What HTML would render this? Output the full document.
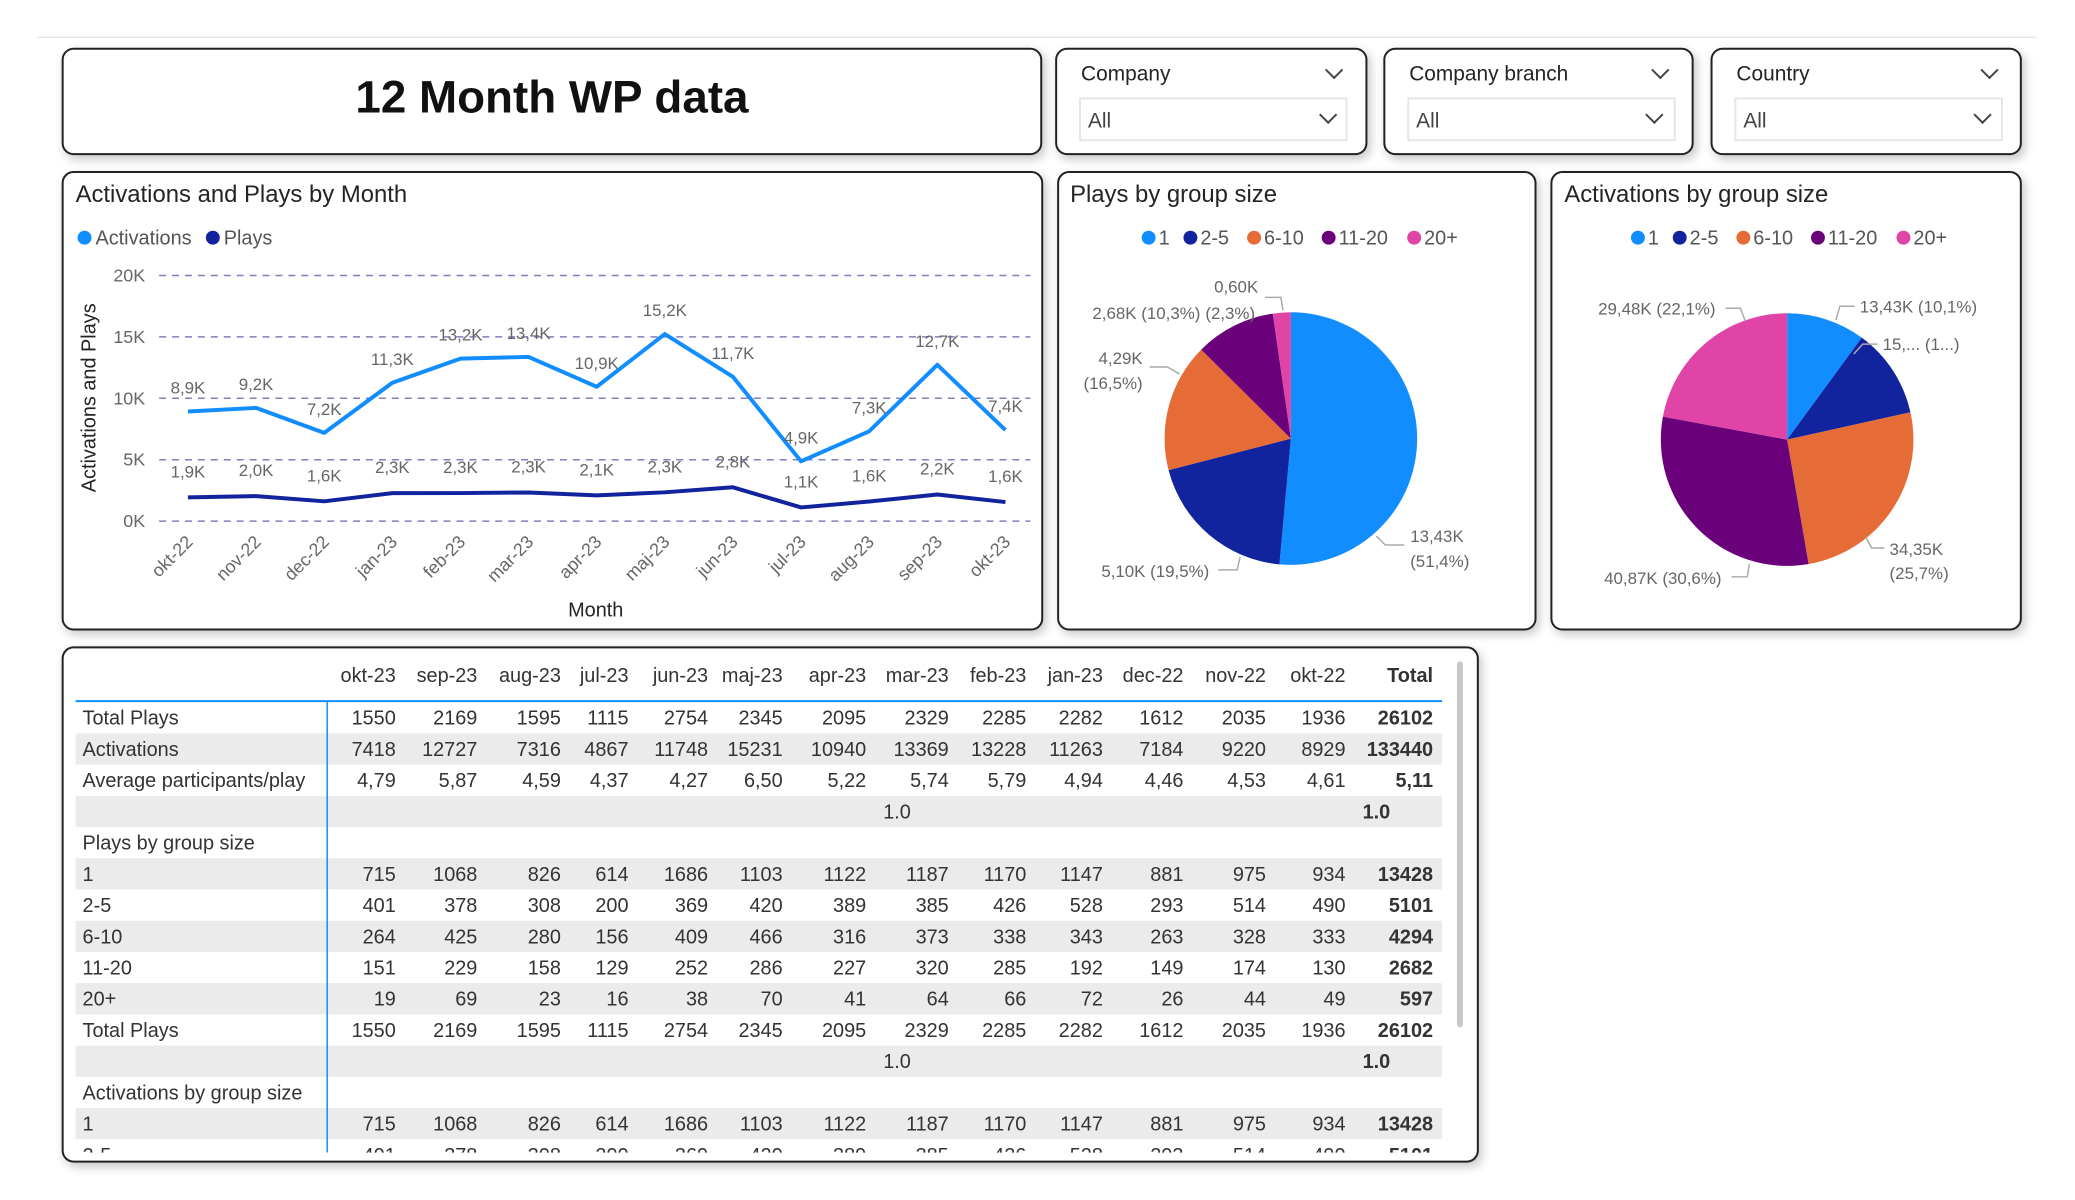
<!DOCTYPE html>
<html><head><meta charset="utf-8">
<style>
html,body{margin:0;padding:0;background:#fff;}
body{width:2075px;height:1200px;position:relative;overflow:hidden;font-family:"Liberation Sans",sans-serif;color:#252423;}
#root{position:absolute;left:0;top:0;width:2075px;height:1200px;transform:scale(0.9945);transform-origin:0 0;}
.box{position:absolute;border:2px solid #222;border-radius:12px;background:#fff;box-shadow:3px 4px 10px rgba(0,0,0,0.22);box-sizing:border-box;}
.lbl{position:absolute;font-size:21px;color:#252423;}
.dd{position:absolute;border:2px solid #e6e6e6;box-sizing:border-box;}
.chev{position:absolute;width:11px;height:11px;border-right:2px solid #444;border-bottom:2px solid #444;transform:rotate(45deg);}
svg text{font-family:"Liberation Sans",sans-serif;}
</style></head>
<body>
<div id="root">
<div style="position:absolute;left:37px;top:37px;width:2011px;height:1px;background:#ddd;"></div>

<div class="box" style="left:62px;top:48px;width:986px;height:108px;">
  <div style="position:absolute;left:0;right:0;top:20px;text-align:center;font-size:46px;font-weight:bold;color:#111;">12 Month WP data</div>
</div>

<div class="box" style="left:1061px;top:48px;width:314px;height:108px;">
  <div class="lbl" style="left:24px;top:13px;">Company</div>
  <div class="chev" style="left:272px;top:14px;"></div>
  <div class="dd" style="left:22px;top:48px;width:270px;height:44px;">
    <div class="lbl" style="left:7px;top:10px;color:#444;">All</div>
    <div class="chev" style="left:242px;top:9px;"></div>
  </div>
</div>
<div class="box" style="left:1391px;top:48px;width:312px;height:108px;">
  <div class="lbl" style="left:24px;top:13px;">Company branch</div>
  <div class="chev" style="left:270px;top:14px;"></div>
  <div class="dd" style="left:22px;top:48px;width:270px;height:44px;">
    <div class="lbl" style="left:7px;top:10px;color:#444;">All</div>
    <div class="chev" style="left:240px;top:9px;"></div>
  </div>
</div>
<div class="box" style="left:1720px;top:48px;width:313px;height:108px;">
  <div class="lbl" style="left:24px;top:13px;">Country</div>
  <div class="chev" style="left:272px;top:14px;"></div>
  <div class="dd" style="left:22px;top:48px;width:270px;height:44px;">
    <div class="lbl" style="left:7px;top:10px;color:#444;">All</div>
    <div class="chev" style="left:241px;top:9px;"></div>
  </div>
</div>

<div class="box" style="left:62px;top:172px;width:987px;height:462px;"></div>
<div class="box" style="left:1063px;top:172px;width:482px;height:462px;"></div>
<div class="box" style="left:1559px;top:172px;width:474px;height:462px;"></div>
<div class="box" style="left:62px;top:650px;width:1425px;height:519px;overflow:hidden;"></div>

<svg id="charts" width="2075" height="1200" style="position:absolute;left:0;top:0;" xmlns="http://www.w3.org/2000/svg"></svg>
</div>

<script>
// ---- Line chart data ----
const months = ["okt-22","nov-22","dec-22","jan-23","feb-23","mar-23","apr-23","maj-23","jun-23","jul-23","aug-23","sep-23","okt-23"];
const activations = [8929,9220,7184,11263,13228,13369,10940,15231,11748,4867,7316,12727,7418];
const plays = [1936,2035,1612,2282,2285,2329,2095,2345,2754,1115,1595,2169,1550];
const yTicks = [0,5000,10000,15000,20000];
const yTickLabels = ["0K","5K","10K","15K","20K"];
// ---- Pie data ----
const groupLabels = ["1","2-5","6-10","11-20","20+"];
const playsByGroup = [13428,5101,4294,2682,597];
const activationsByGroup = [13428,15312,34350,40870,29480];
// ---- Table data ----
const tableCols = ["okt-23","sep-23","aug-23","jul-23","jun-23","maj-23","apr-23","mar-23","feb-23","jan-23","dec-22","nov-22","okt-22","Total"];
const rowTotalPlays = ["1550","2169","1595","1115","2754","2345","2095","2329","2285","2282","1612","2035","1936","26102"];
const rowActivations = ["7418","12727","7316","4867","11748","15231","10940","13369","13228","11263","7184","9220","8929","133440"];
const rowAvg = ["4,79","5,87","4,59","4,37","4,27","6,50","5,22","5,74","5,79","4,94","4,46","4,53","4,61","5,11"];
const rowG1 = ["715","1068","826","614","1686","1103","1122","1187","1170","1147","881","975","934","13428"];
const rowG25 = ["401","378","308","200","369","420","389","385","426","528","293","514","490","5101"];
const rowG610 = ["264","425","280","156","409","466","316","373","338","343","263","328","333","4294"];
const rowG1120 = ["151","229","158","129","252","286","227","320","285","192","149","174","130","2682"];
const rowG20 = ["19","69","23","16","38","70","41","64","66","72","26","44","49","597"];

const NS="http://www.w3.org/2000/svg";
const svg=document.getElementById('charts');
const colors=["#118DFF","#12239E","#E66C37","#6B007B","#E044A7"];
function mk(tag,attrs,parent){const e=document.createElementNS(NS,tag);for(const k in attrs)e.setAttribute(k,attrs[k]);(parent||svg).appendChild(e);return e;}
function txt(s,attrs,parent){const e=mk('text',attrs,parent);e.textContent=s;return e;}

// ---------- Line chart ----------
const X0=189,X1=1011,Y0=524,Y1=277;
const xs=i=>X0+(X1-X0)*i/(months.length-1);
const ys=v=>Y0-(Y0-Y1)*v/20000;
let t;
t=txt("Activations and Plays by Month",{x:76,y:203,'font-size':24,fill:'#252423'});


let c=mk('circle',{cx:85,cy:239,r:7,fill:colors[0]});


t=txt("Activations",{x:96,y:246,'font-size':20,fill:'#555'});


c=mk('circle',{cx:214,cy:239,r:7,fill:colors[1]});


t=txt("Plays",{x:225,y:246,'font-size':20,fill:'#555'});


yTicks.forEach((v,i)=>{
  const l=mk('line',{x1:160,x2:1036,y1:ys(v),y2:ys(v),stroke:'#7F7FBF','stroke-width':1.5,'stroke-dasharray':'7,6'});
  
  
  const tt=txt(yTickLabels[i],{x:146,y:ys(v)+6,'font-size':18,fill:'#666','text-anchor':'end'});
  
  
});
months.forEach((m,i)=>{
  const tt=txt(m,{x:0,y:0,'font-size':18,fill:'#666','text-anchor':'end',transform:`translate(${xs(i)+6},${546}) rotate(-45)`});
  
  
});
t=txt("Month",{x:599,y:620,'font-size':20,fill:'#252423','text-anchor':'middle'});


t=txt("Activations and Plays",{x:0,y:0,'font-size':20,fill:'#252423','text-anchor':'middle',transform:'translate(96,400) rotate(-90)'});


function fmtK(v){return (v/1000).toFixed(1).replace('.',',')+'K';}
let p=mk('polyline',{points:activations.map((v,i)=>xs(i)+','+ys(v)).join(' '),fill:'none',stroke:colors[0],'stroke-width':4,'stroke-linejoin':'round'});


p=mk('polyline',{points:plays.map((v,i)=>xs(i)+','+ys(v)).join(' '),fill:'none',stroke:colors[1],'stroke-width':4,'stroke-linejoin':'round'});


activations.forEach((v,i)=>{
  const tt=txt(fmtK(v),{x:xs(i),y:ys(v)-18,'font-size':17,fill:'#666','text-anchor':'middle'});
  
  
});
plays.forEach((v,i)=>{
  const tt=txt(fmtK(v),{x:xs(i),y:ys(v)-20,'font-size':17,fill:'#666','text-anchor':'middle'});
  
  
});

// ---------- Pies ----------
function pie(cx,cy,r,vals,prefix){
  const tot=vals.reduce((a,b)=>a+b,0);
  let a=-Math.PI/2;
  vals.forEach((v,i)=>{
    const a2=a+2*Math.PI*v/tot;
    const x1=cx+r*Math.cos(a),y1=cy+r*Math.sin(a),x2=cx+r*Math.cos(a2),y2=cy+r*Math.sin(a2);
    const large=(a2-a)>Math.PI?1:0;
    const s=mk('path',{d:`M${cx},${cy} L${x1},${y1} A${r},${r} 0 ${large} 1 ${x2},${y2} Z`,fill:colors[i]});
    
    
    a=a2;
  });
}
function legend(x,y,prefix){
  let cx=x;
  groupLabels.forEach((g,i)=>{
    const d=mk('circle',{cx:cx+7,cy:y,r:7,fill:colors[i]});
    
    
    const tt=txt(g,{x:cx+17,y:y+7,'font-size':20,fill:'#555'});
    
    
    cx+=17+g.length*11+14;
  });
}
t=txt("Plays by group size",{x:1076,y:203,'font-size':24,fill:'#252423'});


t=txt("Activations by group size",{x:1573,y:203,'font-size':24,fill:'#252423'});


legend(1148,239,'plays-pie');
legend(1640,239,'activations-pie');
pie(1298,441,127,playsByGroup,'plays-pie');
pie(1797,442,127,activationsByGroup,'activations-pie');

function fmt2(v){return (v/1000).toFixed(2).replace('.',',')+'K';}
function pct(v,arr){const tot=arr.reduce((a,b)=>a+b,0);return '('+(100*v/tot).toFixed(1).replace('.',',')+'%)';}
const lab=(s,x,y,anchor,name)=>{const tt=txt(s,{x:x,y:y,'font-size':17,fill:'#666','text-anchor':anchor});};
const lead=(pts,name)=>{const l=mk('polyline',{points:pts,fill:'none',stroke:'#aaa','stroke-width':1.5});};
// plays pie labels
lab(fmt2(playsByGroup[0]),1418,545,'start','plays-pie-label-1');
lab(pct(playsByGroup[0],playsByGroup),1418,570,'start','plays-pie-label-1-pct');
lead('1384,539 1393,548 1412,548','plays-pie-leader-1');
lab(fmt2(playsByGroup[1])+' '+pct(playsByGroup[1],playsByGroup),1216,580,'end','plays-pie-label-2-5');
lead('1247,560 1244,573 1225,573','plays-pie-leader-2-5');
lab(fmt2(playsByGroup[2]),1149,366,'end','plays-pie-label-6-10');
lab(pct(playsByGroup[2],playsByGroup),1149,391,'end','plays-pie-label-6-10-pct');
lead('1156,369 1174,369 1186,376','plays-pie-leader-6-10');
lab(fmt2(playsByGroup[3])+' '+pct(playsByGroup[3],playsByGroup),1207,321,'end','plays-pie-label-11-20');
lab(fmt2(playsByGroup[4]),1243,294,'middle','plays-pie-label-20plus');
lab(pct(playsByGroup[4],playsByGroup),1212,321,'start','plays-pie-label-20plus-pct');
lead('1272,299 1288,299 1290,312','plays-pie-leader-20plus');
// activations pie labels
lab(fmt2(activationsByGroup[0])+' '+pct(activationsByGroup[0],activationsByGroup),1870,314,'start','activations-pie-label-1');
lead('1865,308 1850,308 1846,322','activations-pie-leader-1');
lab('15,... (1...)',1893,352,'start','activations-pie-label-2-5');
lead('1888,346 1873,346 1864,356','activations-pie-leader-2-5');
lab(fmt2(activationsByGroup[2]),1900,558,'start','activations-pie-label-6-10');
lab(pct(activationsByGroup[2],activationsByGroup),1900,582,'start','activations-pie-label-6-10-pct');
lead('1876,540 1882,551 1895,551','activations-pie-leader-6-10');
lab(fmt2(activationsByGroup[3])+' '+pct(activationsByGroup[3],activationsByGroup),1731,587,'end','activations-pie-label-11-20');
lead('1741,580 1757,580 1759,567','activations-pie-leader-11-20');
lab(fmt2(activationsByGroup[4])+' '+pct(activationsByGroup[4],activationsByGroup),1725,316,'end','activations-pie-label-20plus');
lead('1735,310 1750,310 1755,323','activations-pie-leader-20plus');

// ---------- Table ----------
const colRight=[398,480,564,632,712,787,871,954,1032,1109,1190,1273,1353,1441];
const g=mk('g',{'clip-path':'url(#tclip)'});


const defs=mk('defs',{});
const cp=mk('clipPath',{id:'tclip'},defs);
mk('rect',{x:64,y:652,width:1420,height:507},cp);
tableCols.forEach((cn,i)=>{
  const tt=txt(cn,{x:colRight[i],y:686,'font-size':20,fill:'#333','text-anchor':'end','font-weight':cn==='Total'?'bold':'normal'},g);
  
  
});
const rows=[
 ["Total Plays",rowTotalPlays],["Activations",rowActivations],["Average participants/play",rowAvg],
 ["",null],["Plays by group size",'hdr'],["1",rowG1],["2-5",rowG25],["6-10",rowG610],["11-20",rowG1120],["20+",rowG20],
 ["Total Plays",rowTotalPlays],["",null],["Activations by group size",'hdr'],["1",rowG1],["2-5",rowG25]
];
const RT=706,RH=31.4;
rows.forEach((r,ri)=>{
  const top=RT+ri*RH;
  if(ri%2===1){
    const b=mk('rect',{x:76,y:top,width:1374,height:RH,fill:'#EBEBEB'},g);
    
    
  }
  const base=top+RH/2+7;
  const lt=txt(r[0],{x:83,y:base,'font-size':20,fill:'#333'},g);
  
  
  if(Array.isArray(r[1])){
    r[1].forEach((v,ci)=>{
      const ct=txt(v,{x:colRight[ci],y:base,'font-size':20,fill:'#333','text-anchor':'end','font-weight':ci===13?'bold':'normal'},g);
      
      
    });
  } else if(r[1]===null){
    const a1=txt("1.0",{x:902,y:base,'font-size':20,fill:'#333','text-anchor':'middle'},g);
    
    
    const a2=txt("1.0",{x:1384,y:base,'font-size':20,fill:'#333','text-anchor':'middle','font-weight':'bold'},g);
    
    
  }
});
let ln=mk('line',{x1:76,x2:1450,y1:705,y2:705,stroke:'#118DFF','stroke-width':2},g);


ln=mk('line',{x1:329,x2:329,y1:705,y2:1159,stroke:'#118DFF','stroke-width':1.5},g);


const sb=mk('rect',{x:1465,y:665,width:6,height:368,rx:3,fill:'#C8C8C8'});


</script>
</body></html>
